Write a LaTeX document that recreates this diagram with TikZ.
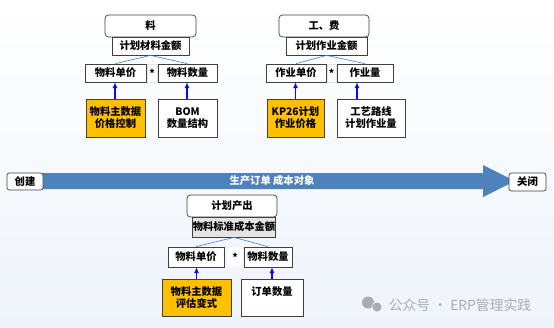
\documentclass[tikz,border=0pt]{standalone}
\usepackage{fontspec}
\newfontfamily\cjk{Noto Sans CJK SC}
\usetikzlibrary{arrows.meta,positioning}
\definecolor{lineGray}{RGB}{64,64,64}
\definecolor{keyOrange}{RGB}{255,192,0}
\definecolor{fanBlue}{RGB}{58,125,230}
\definecolor{feedBlue}{RGB}{10,10,240}
\definecolor{flowBlue}{RGB}{79,129,189}
\definecolor{sumGray}{RGB}{228,228,228}
\definecolor{markGray}{RGB}{170,172,176}
\definecolor{bgBlue}{RGB}{239,244,251}

\begin{document}
\begin{tikzpicture}[
    x=0.03cm, y=-0.03cm,
    every node/.style={font=\cjk\bfseries\fontsize{8.8}{10.3}\selectfont, inner sep=0pt},
    capbox/.style={draw=lineGray, fill=white, rounded corners=3pt,
      minimum height=0.66cm, line width=0.6pt},
    sumbox/.style={draw=lineGray, fill=white, minimum height=0.54cm, line width=0.6pt},
    facbox/.style={draw=lineGray, fill=white, minimum height=0.54cm, line width=0.6pt},
    xbox/.style={draw=gray!20, fill=white, minimum height=0.54cm},
    srcbox/.style={draw=lineGray, fill=white, minimum height=1.14cm,
      align=center, line width=0.6pt},
    endbox/.style={draw=lineGray, fill=white, rounded corners=2pt, line width=0.6pt},
    fan/.style={fanBlue, line width=0.5pt},
    feed/.style={-{Latex[length=5pt,width=4.5pt]}, feedBlue, line width=1.2pt}
  ]
    \useasboundingbox (0,0) rectangle (554,327);
    \shade[top color=white, bottom color=bgBlue] (0,0) rectangle (554,327);

    % Material
    \node[capbox, minimum width=2.73cm] (cap1) at (150.5,26) {料};
    \node[sumbox, minimum width=2.31cm] (sum1) at (150.5,46) {计划材料金额};
    \node[facbox, minimum width=1.83cm] (price1) at (115.5,73) {物料单价};
    \node[xbox, minimum width=0.30cm] (x1) at (152,73) {*};
    \node[facbox, minimum width=1.77cm] (qty1) at (187.5,73) {物料数量};
    \node[srcbox, fill=keyOrange, minimum width=1.77cm] (src1a) at (115.5,118) {物料主数据\\价格控制};
    \node[srcbox, minimum width=1.77cm] (src1b) at (187.5,118) {BOM\\数量结构};

    \draw[fan] (sum1.south) -- (price1.north);
    \draw[fan] (sum1.south) -- (qty1.north);
    \draw[feed] ([xshift=-0.015cm]src1a.north) -- ([xshift=-0.015cm]src1a.north |- price1.south);
    \draw[feed] ([xshift=-0.015cm]src1b.north) -- ([xshift=-0.015cm]src1b.north |- qty1.south);

    % Labour and overhead
    \node[capbox, minimum width=2.70cm] (cap2) at (324,26) {工、费};
    \node[sumbox, minimum width=2.43cm] (sum2) at (326.5,46) {计划作业金额};
    \node[facbox, minimum width=1.80cm] (price2) at (296,73) {作业单价};
    \node[xbox, minimum width=0.27cm] (x2) at (331.5,73) {*};
    \node[facbox, minimum width=1.68cm] (qty2) at (365,73) {作业量};
    \node[srcbox, fill=keyOrange, minimum width=1.71cm] (src2a) at (295.5,118) {KP26计划\\作业价格};
    \node[srcbox, minimum width=2.04cm] (src2b) at (371,118) {工艺路线\\计划作业量};

    \draw[fan] (sum2.south) -- (price2.north);
    \draw[fan] (sum2.south) -- (qty2.north);
    \draw[feed] (src2a.north) -- (src2a.north |- price2.south);
    \draw[feed] ([xshift=-0.42cm]src2b.north) -- ([xshift=-0.42cm]src2b.north |- qty2.south);

    % Production order
    \fill[flowBlue] (25,173) -- (483,173) -- (483,165) -- (515,181)
      -- (483,197) -- (483,189) -- (25,189) -- cycle;
    \node[text=white] (flow) at (272,181) {生产订单 成本对象};
    \node[endbox, minimum width=1.08cm, minimum height=0.51cm] (create) at (25,181.5) {创建};
    \node[endbox, minimum width=1.11cm, minimum height=0.54cm] (close) at (527.5,182) {关闭};

    % Planned output
    \node[capbox, minimum width=2.70cm] (cap3) at (232,206) {计划产出};
    \node[sumbox, fill=sumGray, minimum width=2.46cm, minimum height=0.6cm] (sum3) at (234,227) {物料标准成本金额};
    \node[facbox, minimum width=1.68cm, minimum height=0.6cm] (price3) at (196,257) {物料单价};
    \node[xbox, rounded corners=2pt, minimum width=0.48cm, minimum height=0.6cm] (x3) at (235,257) {*};
    \node[facbox, minimum width=1.44cm, minimum height=0.6cm] (qty3) at (268,257) {物料数量};
    \node[srcbox, fill=keyOrange, minimum width=2.07cm, minimum height=1.11cm] (src3a) at (196.5,297.5) {物料主数据\\评估变式};
    \node[srcbox, minimum width=1.86cm, minimum height=1.11cm] (src3b) at (272,297.5) {订单数量\\~};

    \draw[fan] (sum3.south) -- (price3.north);
    \draw[fan] (sum3.south) -- (qty3.north);
    \draw[feed] (src3a.north) -- (src3a.north |- price3.south);
    \draw[feed] (src3b.north) -- (src3b.north |- qty3.south);

    % Watermark
    \fill[markGray] (368,302.5) circle [radius=0.18cm];
    \fill[markGray, draw=white, line width=0.4pt] (377,307) circle [radius=0.15cm];
    \node[font=\cjk\fontsize{11.8}{13}\selectfont, text=markGray] (mark) at (460,305) {公众号 · ERP管理实践};
  \end{tikzpicture}
\end{document}
